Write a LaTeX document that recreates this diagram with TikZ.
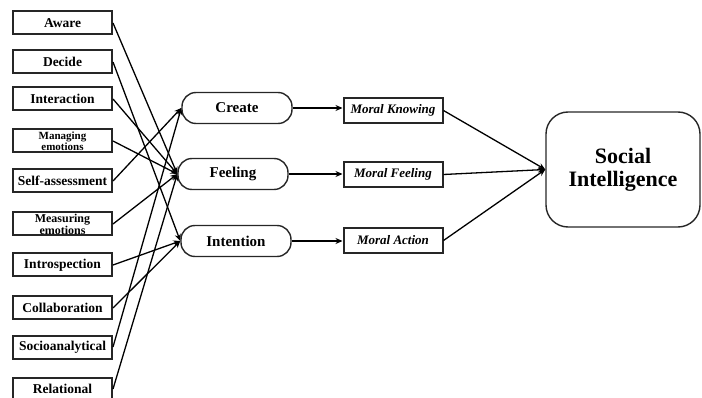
\documentclass[tikz,border=0pt]{standalone}
\usepackage{fontspec}
\setmainfont{Liberation Serif}
\usetikzlibrary{arrows.meta}
\begin{document}
\begin{tikzpicture}[x=1pt,y=-1pt,
  srcbox/.style={draw=black!85,line width=2pt,minimum width=99pt,minimum height=23pt,inner sep=0pt,font=\fontsize{13.5}{14}\selectfont\bfseries,align=center},
  midnode/.style={draw=black!85,line width=1.4pt,rounded corners=14pt,minimum width=110pt,minimum height=31pt,inner sep=0pt,font=\fontsize{15}{15}\selectfont\bfseries},
  moralbox/.style={draw=black!85,line width=2pt,minimum width=99pt,minimum height=25pt,inner sep=0pt,font=\fontsize{13}{13}\selectfont\bfseries\itshape},
  sibox/.style={draw=black!85,line width=1.4pt,rounded corners=22pt,minimum width=154pt,minimum height=115pt,inner sep=0pt,font=\fontsize{22}{23}\selectfont\bfseries,align=center},
  arr/.style={-{Stealth[length=7pt,width=6pt]},line width=1.3pt,black}
]
\useasboundingbox (0,0) rectangle (702,398);
% source boxes
\node[srcbox] (aware) at (62.5,23) {Aware};
\node[srcbox] (decide) at (62.5,62) {Decide};
\node[srcbox] (inter) at (62.5,99) {Interaction};
\node[srcbox,font=\fontsize{11}{11}\selectfont\bfseries] (manag) at (62.5,141) {Managing\\emotions};
\node[srcbox] (selfa) at (62.5,181) {Self-assessment};
\node[srcbox,font=\fontsize{12}{12}\selectfont\bfseries] (measur) at (62.5,224) {Measuring\\emotions};
\node[srcbox] (intro) at (62.5,265) {Introspection};
\node[srcbox] (collab) at (62.5,308) {Collaboration};
\node[srcbox] (socio) at (62.5,347) {Socioanalytical};
\node[srcbox] (relat) at (62.5,389) {Relational};
% middle nodes
\node[midnode] (create) at (237,108) {Create};
\node[midnode] (feel) at (233,174) {Feeling};
\node[midnode] (inten) at (236,241) {Intention};
% moral boxes
\node[moralbox] (mk) at (393,110.5) {Moral Knowing};
\node[moralbox] (mf) at (393,174.5) {Moral Feeling};
\node[moralbox] (ma) at (393,240.5) {Moral Action};
% social intelligence
\node[sibox] (si) at (623,169.5) {Social\\Intelligence};
% connectors left -> middle
\draw[arr] (aware.east) -- (feel.west);
\draw[arr] (decide.east) -- (inten.west);
\draw[arr] (inter.east) -- (feel.west);
\draw[arr] (manag.east) -- (feel.west);
\draw[arr] (selfa.east) -- (create.west);
\draw[arr] (measur.east) -- (feel.west);
\draw[arr] (intro.east) -- (inten.west);
\draw[arr] (collab.east) -- (inten.west);
\draw[arr] (socio.east) -- (create.west);
\draw[arr] (relat.east) -- (feel.west);
% middle -> moral
\draw[arr] (create.east) -- (mk.west |- create.east);
\draw[arr] (feel.east) -- (mf.west |- feel.east);
\draw[arr] (inten.east) -- (ma.west |- inten.east);
% moral -> SI
\draw[arr] (mk.east) -- (si.west);
\draw[arr] (mf.east) -- (si.west);
\draw[arr] (ma.east) -- (si.west);
\end{tikzpicture}
\end{document}
